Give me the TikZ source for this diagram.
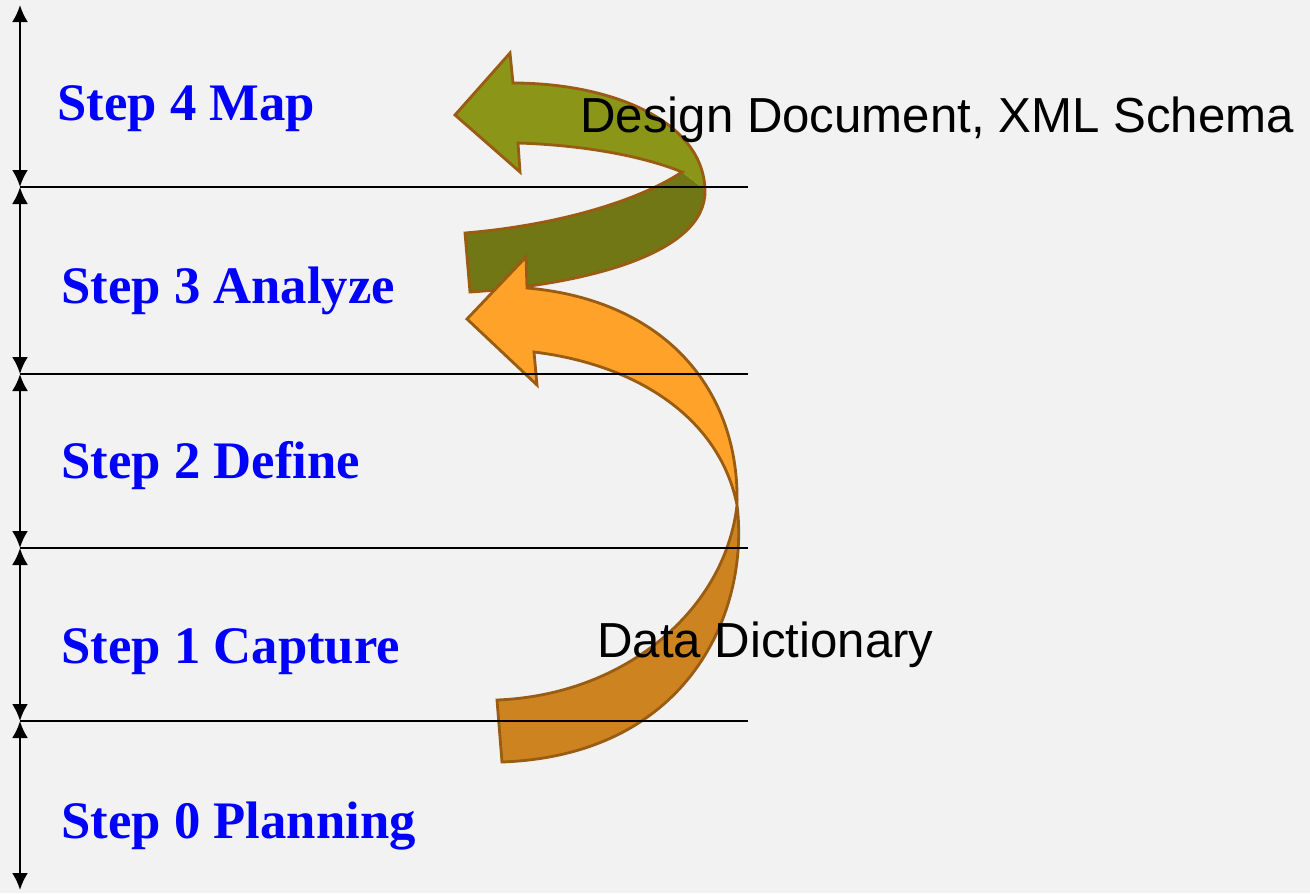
\documentclass[tikz,border=0pt]{standalone}
\usepackage{fontspec}
\setmainfont{Liberation Serif}
\setsansfont{Liberation Sans}
\usetikzlibrary{arrows.meta}
\usetikzlibrary{positioning}
\definecolor{paper}{RGB}{242,242,242}
\definecolor{stepblue}{RGB}{0,0,255}
\definecolor{bandedge}{RGB}{154,91,19}
\definecolor{olivefront}{RGB}{139,149,24}
\definecolor{oliveback}{RGB}{113,119,20}
\definecolor{orangefront}{RGB}{255,162,41}
\definecolor{orangeback}{RGB}{205,132,32}
\tikzstyle{steplabel} = [anchor=base west, inner sep=0pt, text=stepblue,
font=\bfseries\fontsize{30}{36}\selectfont]
\tikzstyle{product} = [anchor=base west, inner sep=0pt,
font=\sffamily\fontsize{28}{34}\selectfont]
\tikzstyle{level} = [draw, line width=1.3pt,
{Latex[length=0.34cm,width=0.32cm]}-{Latex[length=0.34cm,width=0.32cm]}]
\tikzstyle{divider} = [draw, line width=0.9pt]
\tikzstyle{band} = [draw=bandedge, line width=1.6pt, line join=miter]

\begin{document}
\begin{tikzpicture}[x=0.02cm, y=-0.02cm]
	\fill[paper] (0,0) rectangle (1310,893);
	\useasboundingbox (0,0) rectangle (1310,893);
	%% Curved arrows
	\fill[oliveback] (465,233) .. controls (560,225) and (640,200) .. (682,172) -- (705,190)
		.. controls (707,255) and (580,285) .. (470,292) -- cycle;
	\fill[olivefront] (513,83) .. controls (610,83) and (703,120) .. (705,190) -- (682,172)
		.. controls (640,155) and (580,145) .. (518,143) -- (520,172) -- (455,115) -- (510,53) -- cycle;
	\draw[band] (513,83) .. controls (610,83) and (703,120) .. (705,190)
		.. controls (707,255) and (580,285) .. (470,292) -- (465,233)
		.. controls (560,225) and (640,200) .. (682,172)
		.. controls (640,155) and (580,145) .. (518,143)
		-- (520,172) -- (455,115) -- (510,53) -- cycle;
	\fill[orangeback] (737,505) .. controls (750,610) and (690,755) .. (502,762) -- (497,700)
		.. controls (625,695) and (725,610) .. (737,505) -- cycle;
	\fill[orangefront] (527,288) .. controls (665,300) and (740,390) .. (737,505)
		.. controls (720,420) and (640,365) .. (534,352)
		-- (537,385) -- (467,319) -- (526,257) -- cycle;
	\draw[band] (527,288) .. controls (665,300) and (740,390) .. (737,505)
		.. controls (750,610) and (690,755) .. (502,762) -- (497,700)
		.. controls (625,695) and (725,610) .. (737,505)
		.. controls (720,420) and (640,365) .. (534,352)
		-- (537,385) -- (467,319) -- (526,257) -- cycle;
	%% Levels
	\coordinate (L0) at (20,5);
	\coordinate (L1) at (20,187);
	\coordinate (L2) at (20,374);
	\coordinate (L3) at (20,548);
	\coordinate (L4) at (20,721);
	\coordinate (L5) at (20,890);
	\coordinate (E1) at (748,187);
	\coordinate (E2) at (748,374);
	\coordinate (E3) at (748,548);
	\coordinate (E4) at (748,721);
	\path [level] (L0) -- (L1);
	\path [level] (L1) -- (L2);
	\path [level] (L2) -- (L3);
	\path [level] (L3) -- (L4);
	\path [level] (L4) -- (L5);
	\path [divider] (L1) -- (E1);
	\path [divider] (L2) -- (E2);
	\path [divider] (L3) -- (E3);
	\path [divider] (L4) -- (E4);
	%% Steps
	\node [steplabel] (map) at (57,120) {Step 4 Map};
	\node [steplabel] (analyze) at (61,303) {Step 3 Analyze};
	\node [steplabel] (define) at (61,478) {Step 2 Define};
	\node [steplabel] (capture) at (61,663) {Step 1 Capture};
	\node [steplabel] (planning) at (61,838) {Step 0 Planning};
	%% Products
	\node [product] (design) at (580,132) {Design Document, XML Schema};
	\node [product] (dictionary) at (597,657) {Data Dictionary};
\end{tikzpicture}
\end{document}
